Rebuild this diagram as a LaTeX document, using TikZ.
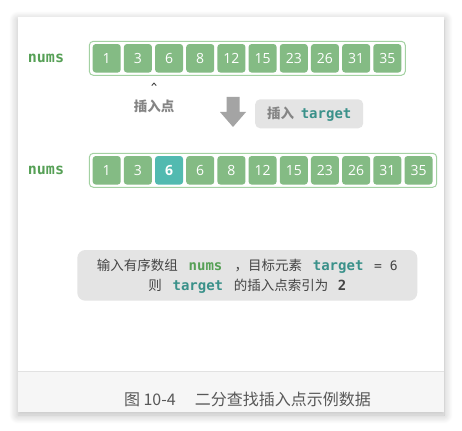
\documentclass[tikz,border=0pt]{standalone}
\usepackage{fontspec}
\usetikzlibrary{shadows.blur}
\newfontfamily\cjk{Noto Sans CJK SC}
\newfontfamily\monof{DejaVu Sans Mono}
\newfontfamily\numf{Open Sans}
\definecolor{cellgreen}{HTML}{84BB84}
\definecolor{cellteal}{HTML}{52BAB0}
\definecolor{rimgreen}{HTML}{A3D1A2}
\definecolor{numsgreen}{HTML}{56A056}
\definecolor{targetteal}{HTML}{3A918A}
\definecolor{boxgray}{HTML}{E4E4E4}
\definecolor{arrowgray}{HTML}{A4A4A4}
\definecolor{labelgray}{HTML}{858585}
\definecolor{textdark}{HTML}{454545}
\definecolor{capstrip}{HTML}{F6F6F6}
\definecolor{capline}{HTML}{E2E2E2}
\tikzset{
  cellbox/.style={fill=cellgreen, rounded corners=3pt, minimum width=28pt, minimum height=28.5pt, inner sep=0pt, text=white, text height=9.8pt, text depth=0pt, font=\numf\fontsize{14}{14}\selectfont},
  cellhl/.style={cellbox, fill=cellteal, font=\numf\bfseries\fontsize{14}{14}\selectfont},
  rimbox/.style={draw=rimgreen, line width=1pt, rounded corners=4pt, fill=white},
  numslabel/.style={text=numsgreen, font=\monof\bfseries\fontsize{15}{15}\selectfont, inner sep=0pt},
  graylabel/.style={text=labelgray, font=\cjk\bfseries\fontsize{13.5}{13.5}\selectfont, inner sep=0pt},
  bodytext/.style={text=textdark, font=\cjk\fontsize{13.5}{20}\selectfont, inner sep=0pt, align=center},
}
\begin{document}
\begin{tikzpicture}[x=1pt,y=-1pt]
\useasboundingbox (0,0) rectangle (462,430);
% card with shadow
\fill[white, blur shadow={shadow xshift=0pt, shadow yshift=-3pt, shadow blur radius=9pt, shadow blur steps=12, shadow opacity=28}] (18,17) rectangle (444,412);
\fill[capstrip] (18,371.5) rectangle (444,412);
\draw[capline, line width=1pt] (18,371.5) -- (444,371.5);
\node[text=textdark!90, font=\cjk\fontsize{16}{16}\selectfont, inner sep=0pt] (cap) at (247.5,399) {图 10-4\hspace{1.2em}二分查找插入点示例数据};

% top array
\draw[rimbox] (89.3,41.3) rectangle (405.3,75.3);
\foreach \v [count=\i from 0] in {1,3,6,8,12,15,23,26,31,35} {
  \node[cellbox] (a\i) at ({106.7+31.18*\i},58.3) {\v};
}
\node[numslabel] (numsA) at (46,58.3) {nums};

% insertion caret
\coordinate (caret) at (154,83);
\draw[textdark, line width=0.9pt, line join=round] ([xshift=-2.2pt,yshift=-2.6pt]caret) -- (caret) -- ([xshift=2.2pt,yshift=-2.6pt]caret);
\node[graylabel] (ipt) at (154,106.5) {插入点};

% down arrow
\fill[arrowgray] (226.5,97) -- (239.5,97) -- (239.5,112) -- (246,112) -- (233,127) -- (220,112) -- (226.5,112) -- cycle;
\node[fill=boxgray, rounded corners=5pt, minimum width=108pt, minimum height=29pt, inner sep=0pt] (ins) at (309.2,113.8) {};
\node[graylabel, anchor=center] (inst) at (ins.center) {插入\hspace{0.5em}{\color{targetteal}\monof\bfseries\fontsize{14}{14}\selectfont target}};

% bottom array
\draw[rimbox] (89.3,153.3) rectangle (436.7,187.3);
\foreach \v [count=\i from 0] in {1,3,6,6,8,12,15,23,26,31,35} {
  \ifnum\i=2
    \node[cellhl] (b\i) at ({106.7+31.18*\i},170.3) {\v};
  \else
    \node[cellbox] (b\i) at ({106.7+31.18*\i},170.3) {\v};
  \fi
}
\node[numslabel] (numsB) at (46,170.5) {nums};

% explanation box
\fill[boxgray] (77.3,250) [rounded corners=8pt] rectangle (417.3,300.7);
\node[bodytext] (l1) at (247.3,265.8) {输入有序数组\hspace{0.8em}{\color{numsgreen}\monof\bfseries\fontsize{14}{14}\selectfont nums}\hspace{0.9em}，目标元素\hspace{0.8em}{\color{targetteal}\monof\bfseries\fontsize{14}{14}\selectfont target}\hspace{0.8em}{\monof\fontsize{13}{13}\selectfont =\hspace{0.6em}6}};
\node[bodytext] (l2) at (247.3,285.8) {则\hspace{0.8em}{\color{targetteal}\monof\bfseries\fontsize{14}{14}\selectfont target}\hspace{0.8em}的插入点索引为\hspace{0.7em}{\monof\bfseries\fontsize{14}{14}\selectfont 2}};
\end{tikzpicture}
\end{document}
